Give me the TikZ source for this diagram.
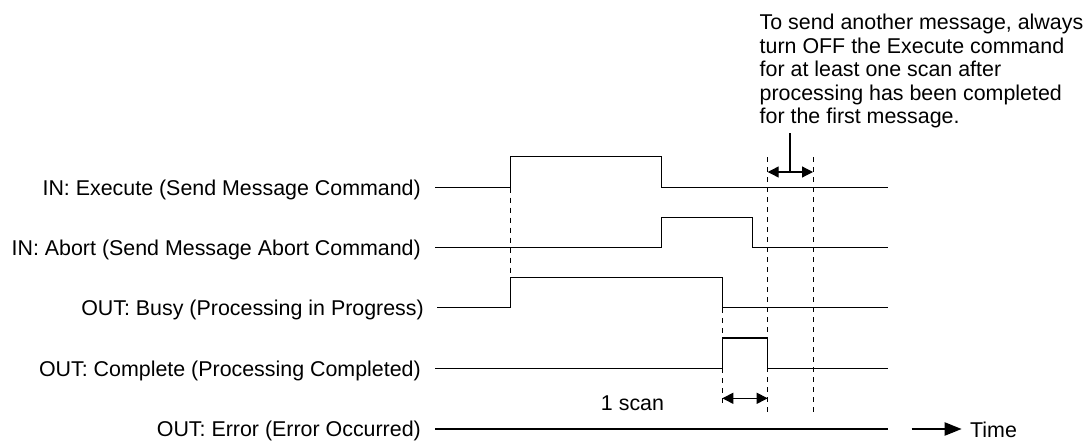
\documentclass[tikz,border=0pt]{standalone}
\usepackage{fontspec}
\setmainfont{Liberation Sans}
\usetikzlibrary{arrows.meta}

\begin{document}
\begin{tikzpicture}[x=1pt,y=-1pt,
  sig/.style={line width=1.2pt},
  guide/.style={line width=1pt,dash pattern=on 5pt off 5pt},
  dim/.style={{Triangle[length=11pt,width=11pt]}-{Triangle[length=11pt,width=11pt]},line width=1.2pt},
  lbl/.style={anchor=base east,inner sep=0pt,font=\fontsize{21.4}{23.5}\selectfont},
  txt/.style={inner sep=0pt,font=\fontsize{21.4}{23.5}\selectfont}]
  \useasboundingbox (0,0) rectangle (1087,444);

  %% signal names
  \node[lbl] (exe)  at (421,195)   {IN: Execute (Send Message Command)};
  \node[lbl] (abt)  at (421,255)   {IN: Abort (Send Message Abort Command)};
  \node[lbl] (busy) at (424,315.5) {OUT: Busy (Processing in Progress)};
  \node[lbl] (cmpl) at (421,376)   {OUT: Complete (Processing Completed)};
  \node[lbl] (err)  at (421,436.5) {OUT: Error (Error Occurred)};

  %% waveforms
  \draw[sig] (435,187.5)--(510.7,187.5)--(510.7,156.7)--(661.7,156.7) % Execute
    --(661.7,187.5)--(888,187.5);
  \draw[sig] (435,247.7)--(661.7,247.7)--(661.7,217.3)--(752.7,217.3) % Abort
    --(752.7,247.7)--(888,247.7);
  \draw[sig] (437,307.7)--(510.7,307.7)--(510.7,277.3)--(722.3,277.3) % Busy
    --(722.3,312)--(722.3,307.7)--(888,307.7);
  \draw[sig] (435,368.7)--(722.3,368.7)--(722.3,338)--(767.7,338)    % Complete
    --(767.7,368.7)--(888,368.7);
  \draw[sig] (435,429)--(888,429);                                   % Error

  %% guides
  \draw[guide] (510.7,187.5)--(510.7,277.3);
  \draw[guide] (722.3,308)--(722.3,407);
  \draw[guide] (767.7,157)--(767.7,413);
  \draw[guide] (813,157)--(813,413);

  %% 1 scan
  \draw[dim] (722.3,398.3)--(767.7,398.3);
  \node[txt,anchor=base] (scan) at (632.5,410) {1 scan};

  %% note on Execute
  \node[txt,anchor=north west,align=left] (note) at (759.5,14)
    {To send another message, always\\turn OFF the Execute command\\for at least one scan after\\processing has been completed\\for the first message.};
  \draw[dim] (767.7,172)--(813,172);
  \draw[sig] (790,133)--(790,172);

  %% time axis
  \draw[-{Triangle[length=17pt,width=13pt]},line width=2pt] (911.7,429)--(961.7,429);
  \node[txt,anchor=base west] (time) at (970,437) {Time};
\end{tikzpicture}
\end{document}
